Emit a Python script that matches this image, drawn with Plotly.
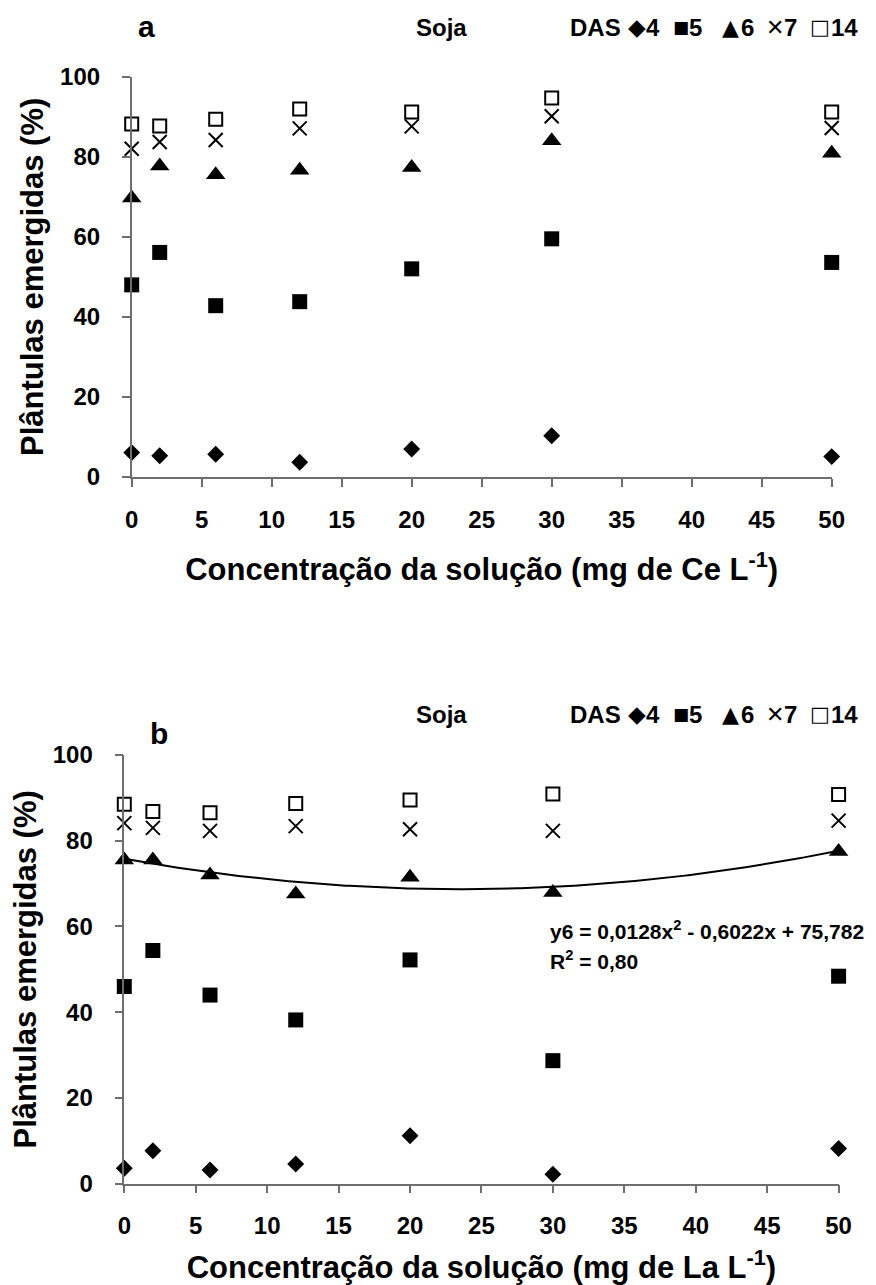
import plotly.graph_objects as go
import numpy as np

# ---------------- data ----------------
conc = [0, 2, 6, 12, 20, 30, 50]

# Panel a (Ce)
ce_das4 = [6.1, 5.3, 5.7, 3.7, 7.0, 10.3, 5.1]
ce_das5 = [48.0, 56.1, 42.8, 43.8, 52.0, 59.5, 53.6]
ce_das6 = [69.7, 77.7, 75.5, 76.6, 77.3, 84.0, 80.9]
ce_das7 = [82.0, 83.7, 84.2, 87.1, 87.6, 90.1, 87.2]
ce_das14 = [88.2, 87.7, 89.4, 91.9, 91.2, 94.7, 91.2]

# Panel b (La)
la_das4 = [3.6, 7.7, 3.2, 4.6, 11.2, 2.2, 8.2]
la_das5 = [46.0, 54.4, 44.0, 38.2, 52.2, 28.7, 48.4]
la_das6 = [75.5, 75.5, 72.0, 67.6, 71.5, 67.9, 77.5]
la_das7 = [84.1, 83.0, 82.3, 83.4, 82.7, 82.3, 84.7]
la_das14 = [88.5, 86.8, 86.5, 88.7, 89.5, 90.9, 90.8]

# Quadratic trendline for DAS 6, panel b (coefficients as printed)
trend_coef = [0.0128, -0.6022, 75.782]

x_ticks = [0, 5, 10, 15, 20, 25, 30, 35, 40, 45, 50]
y_ticks = [0, 20, 40, 60, 80, 100]

das_labels = ["4", "5", "6", "7", "14"]
das_glyphs = ["◆", "■", "▲", "✕", "□"]

# ---------------- figure ----------------
W, H = 876, 1285
FONT = "Liberation Sans, Arial, Helvetica, sans-serif"
AX = "#6e6e6e"

styles = [
    dict(symbol="diamond", size=13, color="black", line=dict(width=0)),
    dict(symbol="square", size=15, color="black", line=dict(width=0)),
    dict(symbol="triangle-up", size=17, color="black", line=dict(width=0)),
    dict(symbol="x-thin-open", size=14, color="black", line=dict(width=2, color="black")),
    dict(symbol="square-open", size=13, color="black", line=dict(width=2, color="black")),
]

fig = go.Figure()

for ys, st in zip([ce_das4, ce_das5, ce_das6, ce_das7, ce_das14], styles):
    fig.add_trace(go.Scatter(x=conc, y=ys, mode="markers", marker=st,
                             cliponaxis=False, showlegend=False,
                             xaxis="x", yaxis="y"))

for ys, st in zip([la_das4, la_das5, la_das6, la_das7, la_das14], styles):
    fig.add_trace(go.Scatter(x=conc, y=ys, mode="markers", marker=st,
                             cliponaxis=False, showlegend=False,
                             xaxis="x2", yaxis="y2"))

xt = np.linspace(0, 50, 201)
yt = np.polyval(trend_coef, xt)
fig.add_trace(go.Scatter(x=xt, y=yt, mode="lines", line=dict(color="black", width=2),
                         showlegend=False, xaxis="x2", yaxis="y2", hoverinfo="skip"))


def px(x):
    return x / W


def py(y):
    return 1 - y / H


def xaxis(dom, title, anchor):
    return dict(domain=dom, range=[0, 50], tickvals=x_ticks, showgrid=False, zeroline=False,
                showline=True, linecolor=AX, linewidth=1.5, ticks="outside", ticklen=8,
                tickcolor=AX, tickwidth=1.5, tickfont=dict(size=24), ticklabelstandoff=12,
                anchor=anchor, automargin=False,
                title=dict(text=title, font=dict(size=31), standoff=27))


def yaxis(dom, anchor):
    return dict(domain=dom, range=[0, 100], tickvals=y_ticks, showgrid=False, zeroline=False,
                showline=True, linecolor=AX, linewidth=1.5, ticks="outside", ticklen=8,
                tickcolor=AX, tickwidth=1.5, tickfont=dict(size=24), ticklabelstandoff=17,
                anchor=anchor, automargin=False,
                title=dict(text="Plântulas emergidas (%)", font=dict(size=31), standoff=7))


fig.update_layout(
    width=W, height=H,
    margin=dict(l=0, r=0, t=0, b=0, autoexpand=False),
    paper_bgcolor="white", plot_bgcolor="white",
    font=dict(family=FONT, color="black", size=22, weight="bold"),
    xaxis=xaxis([px(131.7), px(831.7)], "Concentração da solução (mg de Ce L<sup>-1</sup>)", "y"),
    yaxis=yaxis([py(477), py(76.7)], "x"),
    xaxis2=xaxis([px(124.3), px(838.6)], "Concentração da solução (mg de La L<sup>-1</sup>)", "y2"),
    yaxis2=yaxis([py(1183.7), py(755)], "x2"),
)

annotations = []


def add_text(text, x, y, size, xanchor="center", family=None, weight="bold"):
    f = dict(size=size, weight=weight)
    if family:
        f["family"] = family
    annotations.append(dict(text=text, x=px(x), y=py(y), xref="paper", yref="paper",
                            xanchor=xanchor, yanchor="middle", showarrow=False, font=f))


add_text("a", 146, 26, 30)
add_text("b", 159, 733, 30)

glyph_cx = [637, 681, 730, 774.5, 820]
glyph_sz = [23, 17, 22, 22, 21]
glyph_wt = ["bold", "bold", "bold", "normal", "normal"]
num_x = [645, 688, 740, 783, 830]
for row_y in [27, 714]:
    add_text("Soja", 441, row_y, 24)
    add_text("DAS", 568, row_y, 24, xanchor="left")
    for g, cx, sz, wt, lab, nx in zip(das_glyphs, glyph_cx, glyph_sz, glyph_wt, das_labels, num_x):
        add_text(g, cx, row_y, sz, family="DejaVu Sans", weight=wt)
        add_text(lab, nx - 1, row_y, 24, xanchor="left")

add_text("y6 = 0,0128x<sup>2</sup> - 0,6022x + 75,782", 548, 930, 21, xanchor="left")
add_text("R<sup>2</sup> = 0,80", 548, 960, 21, xanchor="left")

fig.update_layout(annotations=annotations)

fig.write_html("out.html",
               config={"displayModeBar": False},
               post_script="document.body.style.margin='0px';document.body.style.padding='0px';")
